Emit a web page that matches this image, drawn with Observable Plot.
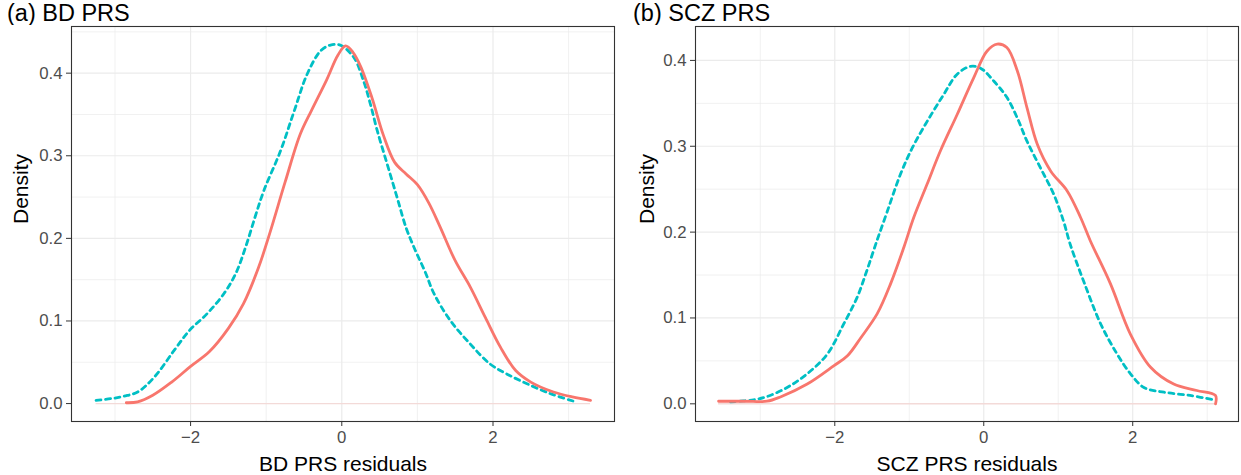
<!DOCTYPE html>
<html><head><meta charset="utf-8">
<script src="https://cdn.jsdelivr.net/npm/d3@7"></script>
<script src="https://cdn.jsdelivr.net/npm/@observablehq/plot@0.6"></script>
<style>
body{margin:0;background:#fff;font-family:"Liberation Sans",Arial,sans-serif;}
#wrap{display:flex;width:1241px;height:475px;overflow:hidden;}
.panel{display:flex;flex-direction:column;}
.title{height:25px;box-sizing:border-box;padding-top:2px;font-size:23.5px;line-height:22px;color:#000;white-space:nowrap;}
</style></head><body><div id="wrap"></div><script>
// ---- data ----
const xTicks = [-2, 0, 2];
const xMinor = [-3, -1, 1, 3];
const yTicks = [0, 0.1, 0.2, 0.3, 0.4];
const yMinor = [0.05, 0.15, 0.25, 0.35, 0.45];

// (a) BD PRS
const bdSolidX = [-2.85,-2.7,-2.5,-2.25,-2.0,-1.75,-1.5,-1.3,-1.1,-0.95,-0.75,-0.55,-0.4,-0.2,-0.05,0.05,0.15,0.25,0.4,0.55,0.7,0.85,1.0,1.15,1.3,1.5,1.7,1.9,2.1,2.3,2.5,2.8,3.05,3.29];
const bdSolidY = [0.001,0.002,0.010,0.026,0.045,0.063,0.091,0.121,0.165,0.207,0.268,0.326,0.355,0.392,0.422,0.433,0.425,0.408,0.370,0.325,0.292,0.278,0.265,0.243,0.214,0.173,0.141,0.104,0.068,0.040,0.026,0.014,0.008,0.004];
const bdDashX = [-3.25,-3.05,-2.88,-2.7,-2.48,-2.22,-2.02,-1.78,-1.56,-1.4,-1.27,-1.15,-1.03,-0.81,-0.63,-0.457,-0.28,-0.15,-0.02,0.16,0.29,0.38,0.47,0.6,0.73,0.85,0.97,1.1,1.22,1.44,1.70,1.96,2.18,2.45,2.76,3.06];
const bdDashY = [0.004,0.006,0.009,0.014,0.032,0.064,0.088,0.109,0.133,0.158,0.190,0.225,0.258,0.306,0.354,0.399,0.427,0.434,0.434,0.419,0.390,0.362,0.330,0.290,0.250,0.213,0.186,0.160,0.133,0.100,0.072,0.048,0.036,0.024,0.012,0.003];

// (b) SCZ PRS
const sczSolidX = [-3.56,-3.2,-2.91,-2.73,-2.37,-2.01,-1.83,-1.65,-1.43,-1.25,-1.07,-0.94,-0.76,-0.58,-0.357,-0.134,0.045,0.18,0.31,0.45,0.58,0.72,0.9,1.12,1.30,1.43,1.70,1.97,2.24,2.55,2.86,3.11,3.112];
const sczSolidY = [0.003,0.003,0.003,0.008,0.023,0.0445,0.056,0.077,0.105,0.140,0.183,0.217,0.256,0.295,0.337,0.380,0.411,0.419,0.415,0.388,0.345,0.302,0.271,0.248,0.217,0.190,0.140,0.081,0.0426,0.023,0.0155,0.0097,0.0];
const sczDashX = [-3.40,-3.09,-2.91,-2.64,-2.37,-2.10,-1.88,-1.70,-1.57,-1.45,-1.30,-1.12,-0.96,-0.76,-0.54,-0.357,-0.18,-0.044,0.134,0.31,0.45,0.58,0.76,0.94,1.07,1.16,1.34,1.57,1.79,1.97,2.15,2.42,2.77,3.11];
const sczDashY = [0.0023,0.0047,0.0085,0.019,0.035,0.058,0.093,0.124,0.155,0.186,0.223,0.267,0.298,0.329,0.360,0.384,0.393,0.391,0.376,0.357,0.333,0.306,0.275,0.244,0.213,0.186,0.143,0.093,0.058,0.035,0.019,0.0135,0.0097,0.0043];

const solidColor = "#F8766D";
const dashColor = "#00BFC4";

function rows(xs, ys) { return xs.map((x, i) => ({x, y: ys[i]})); }

function panel(o) {
  const solid = rows(o.solidX, o.solidY);
  const dash = rows(o.dashX, o.dashY);
  const lo = d3.min([...o.solidX, ...o.dashX]);
  const hi = d3.max([...o.solidX, ...o.dashX]);
  const div = document.createElement("div");
  div.className = "panel";
  div.style.width = o.width + "px";
  const t = document.createElement("div");
  t.className = "title";
  t.style.paddingLeft = o.titlePad + "px";
  t.textContent = o.title;
  div.appendChild(t);
  const chart = Plot.plot({
    width: o.width, height: 450,
    marginTop: 1, marginBottom: 54, marginLeft: o.marginLeft, marginRight: o.marginRight,
    x: {domain: o.xDomain},
    y: {domain: o.yDomain},
    style: {fontFamily: "'Liberation Sans', Arial, sans-serif", background: "white", overflow: "visible"},
    marks: [
      Plot.ruleX(xMinor, {stroke: "#EBEBEB", strokeWidth: 0.7}),
      Plot.ruleX(xTicks, {stroke: "#EBEBEB", strokeWidth: 1.2}),
      Plot.ruleY(yMinor.filter(v => v < o.yDomain[1]), {stroke: "#EBEBEB", strokeWidth: 0.7}),
      Plot.ruleY(yTicks.filter(v => v > 0), {stroke: "#EBEBEB", strokeWidth: 1.2}),
      Plot.ruleY([0], {x1: () => lo, x2: () => hi, stroke: "#F3DAD8", strokeWidth: 1.4}),
      Plot.line(dash, {x: "x", y: "y", stroke: dashColor, strokeWidth: 2.8, strokeDasharray: "5,4.5", curve: "catmull-rom"}),
      Plot.line(solid, {x: "x", y: "y", stroke: solidColor, strokeWidth: 2.8, curve: "catmull-rom"}),
      Plot.frame({stroke: "#333333", strokeWidth: 1.1}),
      Plot.axisX(xTicks, {tickSize: 5, tickPadding: 5, fontSize: 16.8, fill: "#4D4D4D", stroke: "#333333", label: null}),
      Plot.axisY(yTicks, {tickSize: 5, tickPadding: 4, fontSize: 16.8, fill: "#4D4D4D", stroke: "#333333", label: null, tickFormat: d3.format(".1f")}),
      Plot.text([o.xLabel], {frameAnchor: "bottom", lineAnchor: "bottom", dy: 49, fontSize: 21, fill: "black"}),
      Plot.text(["Density"], {frameAnchor: "left", rotate: -90, dx: o.yLabelDx, fontSize: 21, fill: "black"})
    ]
  });
  div.appendChild(chart);
  return div;
}

const wrap = document.getElementById("wrap");
wrap.appendChild(panel({
  title: "(a) BD PRS", titlePad: 7, width: 620, marginLeft: 71, marginRight: 6,
  xDomain: [-3.575, 3.607], yDomain: [-0.0217, 0.4565],
  solidX: bdSolidX, solidY: bdSolidY, dashX: bdDashX, dashY: bdDashY,
  xLabel: "BD PRS residuals", yLabelDx: -50
}));
wrap.appendChild(panel({
  title: "(b) SCZ PRS", titlePad: 13, width: 621, marginLeft: 75, marginRight: 3,
  xDomain: [-3.87, 3.42], yDomain: [-0.0206, 0.4395],
  solidX: sczSolidX, solidY: sczSolidY, dashX: sczDashX, dashY: sczDashY,
  xLabel: "SCZ PRS residuals", yLabelDx: -48
}));
</script></body></html>
